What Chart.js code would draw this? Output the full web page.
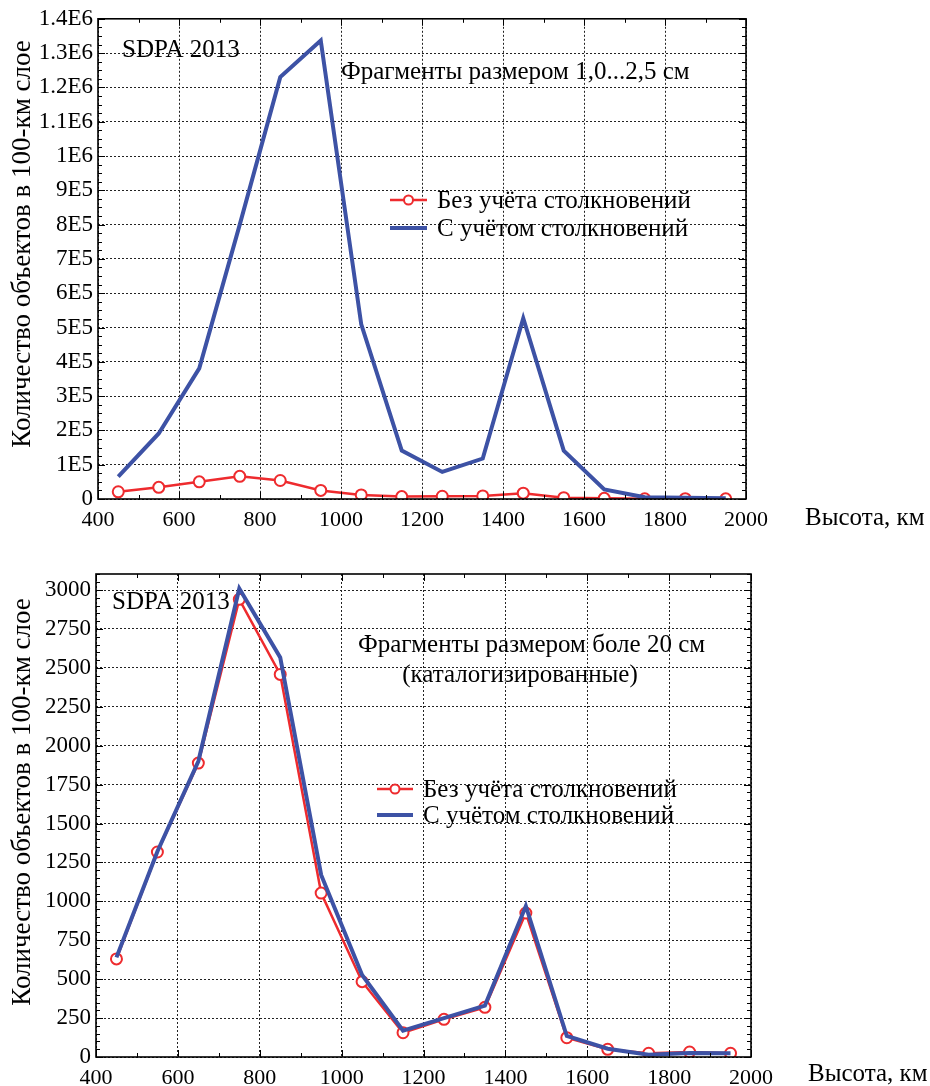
<!DOCTYPE html>
<html>
<head>
<meta charset="utf-8">
<script src="https://cdn.jsdelivr.net/npm/chart.js@4.4.1/dist/chart.umd.min.js"></script>
<style>
  html, body { margin: 0; padding: 0; background: #fff; }
  .wrap { position: absolute; left: 0; width: 930px; }
</style>
</head>
<body>
<div class="wrap" style="top:0;height:540px"><canvas id="top-chart" width="930" height="540"></canvas></div>
<div class="wrap" style="top:540px;height:546px"><canvas id="bottom-chart" width="930" height="546"></canvas></div>
<script>
// ---- data ----
const altitudes = [450, 550, 650, 750, 850, 950, 1050, 1150, 1250, 1350, 1450, 1550, 1650, 1750, 1850, 1950];

// 1,0...2,5 cm fragments
const smallNoCollisions   = [21000, 34000, 50000, 66000, 54000, 25000, 12000, 7000, 8000, 9000, 17000, 4000, 2000, 500, 1000, 500];
const smallWithCollisions = [65000, 191000, 381000, 800000, 1230000, 1337000, 509000, 141000, 79000, 118000, 527000, 141000, 28000, 5000, 4000, 2000];

// > 20 cm fragments (catalogued)
const largeNoCollisions   = [630, 1317, 1888, 2940, 2458, 1053, 484, 156, 242, 319, 925, 124, 49, 24, 32, 24];
const largeWithCollisions = [640, 1320, 1900, 3010, 2567, 1170, 527, 169, 250, 330, 970, 135, 53, 15, 25, 24];

const seriesNames = ['Без учёта столкновений', 'С учётом столкновений'];
const xTickLabels = ['400', '600', '800', '1000', '1200', '1400', '1600', '1800', '2000'];
const topYTickLabels = ['0', '1E5', '2E5', '3E5', '4E5', '5E5', '6E5', '7E5', '8E5', '9E5',
                        '1E6', '1.1E6', '1.2E6', '1.3E6', '1.4E6'];
const bottomYTickLabels = ['0', '250', '500', '750', '1000', '1250', '1500', '1750', '2000',
                           '2250', '2500', '2750', '3000'];
const yTitle = 'Количество объектов в 100-км слое';
const xTitle = 'Высота, км';

const FONT = '"Liberation Serif", "DejaVu Serif", serif';
const RED = '#ee2b2e';
const BLUE = '#3d52a5';

function points(values) {
  return altitudes.map((a, i) => ({ x: a, y: values[i] }));
}

// frame, inward minor ticks, titles and in-plot legend
const decorations = {
  id: 'decorations',
  afterDraw(chart, args, opts) {
    const ctx = chart.ctx;
    const a = chart.chartArea;
    const xs = chart.scales.x, ys = chart.scales.y;
    ctx.save();

    // minor ticks on all four sides
    ctx.strokeStyle = '#000';
    ctx.lineWidth = 1;
    ctx.beginPath();
    for (let v = xs.min; v <= xs.max; v += opts.minorX) {
      const px = Math.round(xs.getPixelForValue(v)) + 0.5;
      const len = (v % opts.majorX === 0) ? 7 : 4;
      ctx.moveTo(px, a.bottom); ctx.lineTo(px, a.bottom - len);
      ctx.moveTo(px, a.top); ctx.lineTo(px, a.top + len);
    }
    for (let v = 0; v <= ys.max; v += opts.minorY) {
      const py = Math.round(ys.getPixelForValue(v)) + 0.5;
      const len = (Math.abs(v % opts.majorY) < 1e-6) ? 7 : 4;
      ctx.moveTo(a.left, py); ctx.lineTo(a.left + len, py);
      ctx.moveTo(a.right, py); ctx.lineTo(a.right - len, py);
    }
    ctx.stroke();

    // frame
    ctx.lineWidth = 1.6;
    ctx.strokeRect(a.left, a.top, a.right - a.left, a.bottom - a.top);

    ctx.fillStyle = '#000';
    ctx.textBaseline = 'middle';

    // axis titles
    ctx.font = '27px ' + FONT;
    ctx.save();
    ctx.translate(opts.yTitleX, opts.yTitleY);
    ctx.rotate(-Math.PI / 2);
    ctx.textAlign = 'center';
    ctx.fillText(yTitle, 0, 0);
    ctx.restore();
    ctx.font = '25px ' + FONT;
    ctx.textAlign = 'left';
    ctx.fillText(xTitle, opts.xTitleX, opts.xTitleY);

    // annotations
    opts.notes.forEach(n => {
      ctx.font = n.size + 'px ' + FONT;
      ctx.textAlign = n.align || 'left';
      ctx.fillText(n.text, n.x, n.y);
    });

    // legend
    ctx.textAlign = 'left';
    ctx.font = opts.legend.size + 'px ' + FONT;
    chart.data.datasets.forEach((ds, i) => {
      const y = opts.legend.y + i * opts.legend.gap;
      const x0 = opts.legend.x, x1 = x0 + opts.legend.len;
      ctx.strokeStyle = ds.borderColor;
      ctx.lineWidth = ds.borderWidth;
      ctx.beginPath();
      ctx.moveTo(x0, y); ctx.lineTo(x1, y);
      ctx.stroke();
      if (ds.pointRadius > 0) {
        ctx.beginPath();
        ctx.arc((x0 + x1) / 2, y, ds.pointRadius - 1, 0, Math.PI * 2);
        ctx.fillStyle = ds.pointBackgroundColor;
        ctx.fill();
        ctx.lineWidth = ds.pointBorderWidth;
        ctx.stroke();
      }
      ctx.fillStyle = '#000';
      ctx.fillText(ds.label, x1 + 10, y + 1);
    });
    ctx.restore();
  }
};

function makeChart(id, cfg) {
  const gridStyle = {
    color: '#222',
    lineWidth: 1,
    drawTicks: false
  };
  return new Chart(document.getElementById(id), {
    type: 'line',
    data: {
      datasets: [
        {
          label: seriesNames[0],
          data: points(cfg.red),
          borderColor: RED,
          borderWidth: 2.5,
          pointRadius: 5.5,
          pointBorderWidth: 2,
          pointBackgroundColor: '#fff',
          pointBorderColor: RED,
          tension: 0,
          order: 2
        },
        {
          label: seriesNames[1],
          data: points(cfg.blue),
          borderColor: BLUE,
          borderWidth: 4,
          pointRadius: 0,
          tension: 0,
          order: 1
        }
      ]
    },
    options: {
      responsive: false,
      animation: false,
      layout: { padding: cfg.padding },
      plugins: {
        legend: { display: false },
        tooltip: { enabled: false },
        decorations: cfg.deco
      },
      scales: {
        x: {
          type: 'linear',
          min: 400,
          max: 2000,
          afterBuildTicks: s => { s.ticks = xTickLabels.map(t => ({ value: Number(t) })); },
          afterFit: s => { s.height = cfg.xHeight; },
          border: { display: false, dash: [2, 2] },
          grid: gridStyle,
          ticks: {
            color: '#000',
            padding: 8,
            maxRotation: 0,
            font: { family: FONT, size: 22 },
            callback: (v, i) => xTickLabels[i]
          }
        },
        y: {
          type: 'linear',
          min: 0,
          max: cfg.yMax,
          afterBuildTicks: s => { s.ticks = cfg.yLabels.map(t => ({ value: Number(t) })); },
          afterFit: s => { s.width = cfg.yWidth; },
          border: { display: false, dash: [2, 2] },
          grid: gridStyle,
          ticks: {
            color: '#000',
            padding: 5,
            font: { family: FONT, size: 23 },
            callback: (v, i) => cfg.yLabels[i]
          }
        }
      }
    },
    plugins: [decorations]
  });
}

makeChart('top-chart', {
  red: smallNoCollisions,
  blue: smallWithCollisions,
  yMax: 1400000,
  yLabels: topYTickLabels,
  padding: { left: 0, top: 18, right: 184, bottom: 0 },
  yWidth: 98,
  xHeight: 41,
  deco: {
    minorX: 100, majorX: 200, minorY: 25000, majorY: 100000,
    yTitleX: 23, yTitleY: 244,
    xTitleX: 805, xTitleY: 518,
    notes: [
      { text: 'SDPA 2013', x: 122, y: 50, size: 25 },
      { text: 'Фрагменты размером 1,0...2,5 см', x: 341, y: 72, size: 25 }
    ],
    legend: { x: 390, len: 37, y: 200, gap: 28, size: 25 }
  }
});

makeChart('bottom-chart', {
  red: largeNoCollisions,
  blue: largeWithCollisions,
  yMax: 3103,
  yLabels: bottomYTickLabels,
  padding: { left: 0, top: 34, right: 179, bottom: 0 },
  yWidth: 96,
  xHeight: 29,
  deco: {
    minorX: 100, majorX: 200, minorY: 50, majorY: 250,
    yTitleX: 23, yTitleY: 262,
    xTitleX: 808, xTitleY: 534,
    notes: [
      { text: 'SDPA 2013', x: 112, y: 62, size: 25 },
      { text: 'Фрагменты размером боле 20 см', x: 358, y: 105, size: 25 },
      { text: '(каталогизированные)', x: 520, y: 135, size: 25, align: 'center' }
    ],
    legend: { x: 377, len: 36, y: 249, gap: 26, size: 25 }
  }
});
</script>
</body>
</html>
